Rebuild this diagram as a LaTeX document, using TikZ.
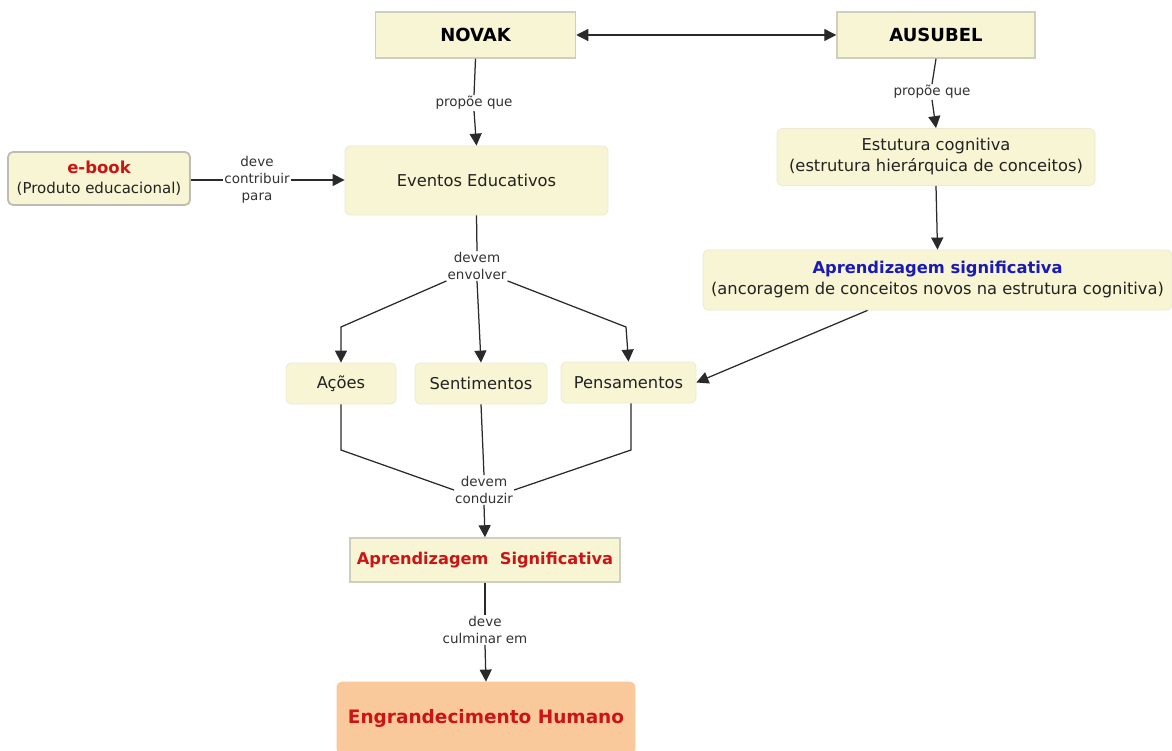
\documentclass[tikz,border=0pt]{standalone}
\usepackage{fontspec}
\setmainfont{DejaVu Sans}
\usetikzlibrary{arrows.meta}
\definecolor{nodefill}{HTML}{F7F5D3}
\definecolor{nodeedge}{HTML}{ECEAD0}
\definecolor{sqedge}{HTML}{CFCFC0}
\definecolor{ebedge}{HTML}{BDBDB2}
\definecolor{peach}{HTML}{F9C99B}
\definecolor{txt}{HTML}{222222}
\definecolor{lbltxt}{HTML}{333333}
\definecolor{linec}{HTML}{2A2A2A}
\definecolor{redtxt}{HTML}{CC1414}
\definecolor{bluetxt}{HTML}{1A1AB8}
\begin{document}
\begin{tikzpicture}[x=1pt,y=-1pt,
  box/.style={fill=nodefill, draw=nodeedge, line width=0.8pt, rounded corners=5pt,
    align=center, font=\fontsize{16.3}{21}\selectfont, text=txt, inner sep=0pt},
  sqbox/.style={box, rounded corners=0pt, draw=sqedge, line width=1.5pt},
  lbl/.style={align=center, font=\fontsize{13.5}{17}\selectfont, text=lbltxt, inner sep=1pt},
  con/.style={line width=1.25pt, draw=linec},
  tip/.tip={Triangle[length=12pt,width=12pt]},
  arr/.style={con, -tip},
]
\clip (0,0) rectangle (1172,751);
\fill[white] (0,0) rectangle (1172,751);

% nodes
\node[sqbox, minimum width=200pt, minimum height=46pt, font=\fontsize{18}{21}\selectfont\bfseries, text=black] (novak) at (475.5,35) {NOVAK};
\node[sqbox, minimum width=198pt, minimum height=46pt, font=\fontsize{18}{21}\selectfont\bfseries, text=black] (ausubel) at (936,35) {AUSUBEL};
\node[box, minimum width=263pt, minimum height=69pt] (eventos) at (476.5,180.5) {Eventos Educativos};
\node[box, draw=ebedge, line width=1.8pt, minimum width=182pt, minimum height=53pt, font=\fontsize{15}{20}\selectfont] (ebook) at (99,178.5)
  {{\fontsize{16.5}{20}\selectfont\bfseries\color{redtxt}e-book}\\(Produto educacional)};
\node[box, minimum width=318pt, minimum height=57pt] (estrutura) at (936,157)
  {Estutura cognitiva\\(estrutura hierárquica de conceitos)};
\node[box, minimum width=469pt, minimum height=60pt] (aprsig) at (937.5,280)
  {{\bfseries\color{bluetxt}Aprendizagem significativa}\\(ancoragem de conceitos novos na estrutura cognitiva)};
\node[box, minimum width=110pt, minimum height=41pt] (acoes) at (341,383.5) {Ações};
\node[box, minimum width=132pt, minimum height=41pt] (sent) at (481,383.5) {Sentimentos};
\node[box, minimum width=135pt, minimum height=41pt] (pens) at (628.5,382.5) {Pensamentos};
\node[sqbox, minimum width=270pt, minimum height=44pt, font=\fontsize{16.2}{21}\selectfont\bfseries, text=redtxt] (aprred) at (485,560)
  {Aprendizagem\ \ Significativa};
\node[box, fill=peach, draw=peach, minimum width=298pt, minimum height=72pt, font=\fontsize{18.5}{21}\selectfont\bfseries, text=redtxt] (engr) at (486,718)
  {Engrandecimento Humano};

% labels
\node[lbl] (l1) at (474,103) {propõe que};
\node[lbl] (l2) at (932,92) {propõe que};
\node[lbl] (l3) at (257,180) {deve\\contribuir\\para};
\node[lbl] (l4) at (477,266) {devem\\envolver};
\node[lbl] (l5) at (484,490) {devem\\conduzir};
\node[lbl] (l6) at (485,630) {deve\\culminar em};

% bend coordinates
\coordinate (ka) at (341,327);
\coordinate (kp) at (626,327);
\coordinate (ja) at (341,450);
\coordinate (jp) at (631,450);

% connectors
\draw[con, tip-tip] (novak.east) -- (ausubel.west);
\draw[con] (novak.south) -- (l1.north);
\draw[arr] (l1.south) -- (eventos.north);
\draw[con] (ausubel.south) -- (l2.north);
\draw[arr] (l2.south) -- (estrutura.north);
\draw[con] (ebook.east |- l3.west) -- (l3.west);
\draw[arr] (l3.east) -- (eventos.west |- l3.east);
\draw[arr] (estrutura.south) -- (aprsig.north);
\draw[arr] (aprsig.south) ++(-70,0) -- (pens.east);
\draw[con] (eventos.south) -- (l4.north);
\draw[arr] (l4.south west) -- (ka) -- (acoes.north);
\draw[arr] (l4.south) -- (sent.north);
\draw[arr] (l4.south east) -- (kp) -- (pens.north);
\draw[con] (acoes.south) -- (ja) -- (l5.west);
\draw[con] (sent.south) -- (l5.north);
\draw[con] (pens.south -| jp) -- (jp) -- (l5.east);
\draw[arr] (l5.south) -- (aprred.north);
\draw[con] (aprred.south) -- (l6.north);
\draw[arr] (l6.south) -- (engr.north);
\end{tikzpicture}
\end{document}
